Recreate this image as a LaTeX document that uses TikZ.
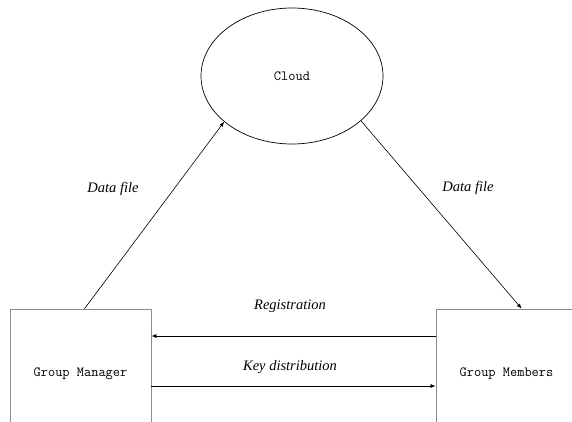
\documentclass[tikz,border=0pt]{standalone}
\usepackage{fontspec}
\setmainfont{Liberation Serif}
\usetikzlibrary{arrows.meta}
\usetikzlibrary{shapes.geometric}

\tikzset{
    party/.style={draw=black!45, line width=0.8pt, minimum width=141pt, minimum height=130pt, font=\ttfamily\fontsize{14}{16}\selectfont},
    flow/.style={-{Latex[length=5pt,width=4pt]}, line width=0.6pt},
    flowlabel/.style={font=\itshape\fontsize{14.5}{16}\selectfont}
}

\begin{document}
\begin{tikzpicture}[x=1pt, y=-1pt]
            \useasboundingbox (0,0) rectangle (572,421);
            \clip (0,0) rectangle (572,421);
            \node[draw, ellipse, line width=0.7pt, minimum width=182pt, minimum height=136pt, font=\ttfamily\fontsize{14}{16}\selectfont] (cloud) at (292,76) {Cloud};
            \node[party] (manager) at (80.5,374) {Group Manager};
            \node[party] (members) at (506.5,374) {Group Members};
            \draw[flow] ([xshift=75pt]manager.north west) -- (cloud.214);
            \draw[flow] (cloud.327) -- ([xshift=86pt]members.north west);
            \draw[flow] ([yshift=38pt]members.west) -- ([yshift=38pt]manager.east);
            \draw[flow] ([yshift=-12pt]manager.east) -- ([yshift=-12pt]members.west);
            \node[flowlabel] (datain) at (113,189) {Data file};
            \node[flowlabel] (dataout) at (468,188) {Data file};
            \node[flowlabel] (reg) at (290,306) {Registration};
            \node[flowlabel] (keydist) at (290,367) {Key distribution};
        \end{tikzpicture}
\end{document}
